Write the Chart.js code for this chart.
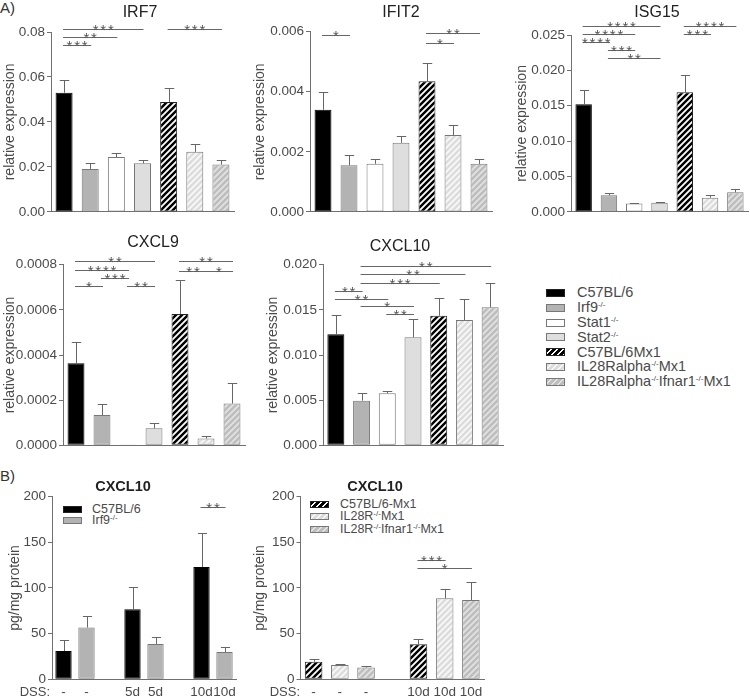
<!DOCTYPE html>
<html>
<head>
<meta charset="utf-8">
<script src="https://cdn.jsdelivr.net/npm/chart.js@4.4.1/dist/chart.umd.min.js"></script>
<style>
  body { margin: 0; background: #fff; width: 750px; height: 700px; position: relative; overflow: hidden;
         font-family: "Liberation Sans", Arial, Helvetica, sans-serif; color: #444; }
  canvas { position: absolute; }
  .tag { position: absolute; font-size: 15px; color: #333; line-height: 16px; }
  .leg { position: absolute; white-space: nowrap; }
  .sw { position: absolute; box-sizing: border-box; border: 1px solid #777; }
  .lt { position: absolute; color: #4a4a4a; }
  sup { font-size: 8px; vertical-align: top; position: relative; top: -3px; }
</style>
</head>
<body>
<div class="tag" style="left:0px;top:0px">A)</div>
<div class="tag" style="left:0px;top:468px">B)</div>
<div id="legends"></div>
<script>
const FONT = '"Liberation Sans", Arial, Helvetica, sans-serif';
const AXIS = '#707070';
const TXT = '#4a4a4a';

// ---- panel A: groups ----
const groupsA = ['C57BL/6', 'Irf9-/-', 'Stat1-/-', 'Stat2-/-', 'C57BL/6Mx1', 'IL28Ralpha-/-Mx1', 'IL28Ralpha-/-Ifnar1-/-Mx1'];
const groupsAHtml = ['C57BL/6', 'Irf9<sup>-/-</sup>', 'Stat1<sup>-/-</sup>', 'Stat2<sup>-/-</sup>', 'C57BL/6Mx1',
                     'IL28Ralpha<sup>-/-</sup>Mx1', 'IL28Ralpha<sup>-/-</sup>Ifnar1<sup>-/-</sup>Mx1'];
const fillA = ['black', 'gray', 'white', 'light', 'hatchBlack', 'hatchLight', 'hatchGray'];

// IRF7
const irf7Ticks = [0, 0.02, 0.04, 0.06, 0.08];
const irf7Mean = [0.0530, 0.0191, 0.0244, 0.0216, 0.0489, 0.0267, 0.0211];
const irf7Err  = [0.0057, 0.0025, 0.0016, 0.0013, 0.0060, 0.0033, 0.0022];
const irf7Sig  = [[0, 3, 0.0813, '***'], [0, 2, 0.0776, '**'], [0, 1, 0.0740, '***'], [4, 6, 0.0813, '***']];

// IFIT2
const ifit2Ticks = [0, 0.002, 0.004, 0.006];
const ifit2Mean = [0.00340, 0.00155, 0.00160, 0.00230, 0.00435, 0.00256, 0.00160];
const ifit2Err  = [0.00060, 0.00033, 0.00017, 0.00022, 0.00060, 0.00035, 0.00015];
const ifit2Sig  = [[0, 1, 0.00590, '*'], [4, 6, 0.00596, '**'], [4, 5, 0.00564, '*']];

// ISG15
const isg15Ticks = [0, 0.005, 0.010, 0.015, 0.020, 0.025];
const isg15Mean = [0.01523, 0.00234, 0.00117, 0.00130, 0.01690, 0.00200, 0.00276];
const isg15Err  = [0.00200, 0.00032, 0.00005, 0.00005, 0.00240, 0.00040, 0.00044];
const isg15Sig  = [[0, 3, 0.0263, '****'], [0, 2, 0.0251, '****'], [0, 1, 0.0240, '****'], [1, 2, 0.02285, '***'],
                   [1, 3, 0.0218, '**'], [4, 6, 0.0263, '****'], [4, 5, 0.0251, '***']];

// CXCL9
const cxcl9Ticks = [0, 0.0002, 0.0004, 0.0006, 0.0008];
const cxcl9Mean = [0.000363, 0.000134, 0.000004, 0.000075, 0.000582, 0.000030, 0.000185];
const cxcl9Err  = [0.000093, 0.000048, 0, 0.000025, 0.000149, 0.000013, 0.000092];
const cxcl9Sig  = [[0, 3, 0.000815, '**'], [0, 2, 0.000776, '****'], [1, 2, 0.000740, '***'], [0, 1, 0.000707, '*'],
                   [2, 3, 0.000707, '**'], [4, 6, 0.000815, '**'], [4, 5, 0.000772, '**'], [5, 6, 0.000772, '*']];

// CXCL10 (mRNA)
const cxcl10Ticks = [0, 0.005, 0.010, 0.015, 0.020];
const cxcl10Mean = [0.01229, 0.00494, 0.00576, 0.01196, 0.01435, 0.01387, 0.01528];
const cxcl10Err  = [0.00217, 0.00089, 0.00029, 0.00206, 0.00192, 0.00229, 0.00272];
const cxcl10Sig  = [[1, 6, 0.01985, '**'], [1, 5, 0.01897, '**'], [1, 4, 0.01800, '***'], [0, 1, 0.01712, '**'],
                    [0, 2, 0.01624, '**'], [1, 3, 0.01539, '*'], [2, 3, 0.01454, '**']];

// ---- panel B: CXCL10 protein ----
const bTicks = [0, 50, 100, 150, 200];
const bLeftLabels = ['-', '-', '', '5d', '5d', '', '10d', '10d'];
const bLeftFill = ['black', 'gray', null, 'black', 'gray', null, 'black', 'gray'];
const bLeftMean = [31, 56.6, null, 76.6, 38.7, null, 123, 29.9];
const bLeftErr  = [11.7, 12.4, null, 24.1, 8.0, null, 36.9, 5.9];
const bLeftSig  = [[6, 7, 189, '**']];
const bLeftLegend = ['C57BL/6', 'Irf9<sup>-/-</sup>'];
const bLeftLegendFill = ['black', 'gray'];

const bRightLabels = ['-', '-', '-', '', '10d', '10d', '10d'];
const bRightFill = ['hatchBlack', 'hatchLight', 'hatchGray', null, 'hatchBlack', 'hatchLight', 'hatchGray'];
const bRightMean = [19.3, 15.7, 12.8, null, 38.3, 88.7, 86.9];
const bRightErr  = [3.0, 1.5, 1.8, null, 5.5, 9.8, 19.3];
const bRightSig  = [[4, 5, 130.7, '***'], [4, 6, 121.5, '*']];
const bRightLegend = ['C57BL/6-Mx1', 'IL28R<sup>-/-</sup>Mx1', 'IL28R<sup>-/-</sup>Ifnar1<sup>-/-</sup>Mx1'];
const bRightLegendFill = ['hatchBlack', 'hatchLight', 'hatchGray'];

// ---- fills ----
function hatch(bg, fg, lw) {
  const s = 6, c = document.createElement('canvas');
  c.width = s; c.height = s;
  const g = c.getContext('2d');
  g.fillStyle = bg; g.fillRect(0, 0, s, s);
  g.strokeStyle = fg; g.lineWidth = lw;
  g.beginPath();
  g.moveTo(0, s); g.lineTo(s, 0);
  g.moveTo(-2, 2); g.lineTo(2, -2);
  g.moveTo(s - 2, s + 2); g.lineTo(s + 2, s - 2);
  g.stroke();
  return g.createPattern(c, 'repeat');
}
const FILL = {
  black: '#000000', gray: '#b3b3b3', white: '#ffffff', light: '#dedede',
  hatchBlack: hatch('#000000', '#ffffff', 1.8),
  hatchLight: hatch('#dcdcdc', '#f8f8f8', 1.8),
  hatchGray: hatch('#bdbdbd', '#e2e2e2', 1.8)
};
const CSSFILL = {
  black: '#000', gray: '#b3b3b3', white: '#fff', light: '#dedede',
  hatchBlack: 'repeating-linear-gradient(135deg,#000 0 2.6px,#fff 2.6px 4.2px)',
  hatchLight: 'repeating-linear-gradient(135deg,#dcdcdc 0 2.6px,#f8f8f8 2.6px 4.2px)',
  hatchGray: 'repeating-linear-gradient(135deg,#bdbdbd 0 2.6px,#e2e2e2 2.6px 4.2px)'
};
const EDGE = { black: '#000', hatchBlack: '#222' };

// titles, error bars, significance brackets, DSS label
function decor(box, cfg) {
  return {
    id: 'decor',
    afterDatasetsDraw(chart) {
      const ctx = chart.ctx, y = chart.scales.y, meta = chart.getDatasetMeta(0);
      ctx.save();
      ctx.strokeStyle = '#666';
      ctx.lineWidth = 1;
      meta.data.forEach((bar, i) => {
        const m = cfg.mean[i], e = cfg.err[i];
        if (m == null || !e) return;
        const yt = Math.round(y.getPixelForValue(m + e)) + 0.5;
        const x = Math.round(bar.x) + 0.5, hw = bar.width * 0.28;
        ctx.beginPath();
        ctx.moveTo(x, bar.y); ctx.lineTo(x, yt);
        ctx.moveTo(x - hw, yt); ctx.lineTo(x + hw, yt);
        ctx.stroke();
      });
      ctx.fillStyle = '#555';
      ctx.font = '15px ' + FONT;
      ctx.textAlign = 'center';
      ctx.textBaseline = 'alphabetic';
      if ('letterSpacing' in ctx) ctx.letterSpacing = '1.8px';
      cfg.sig.forEach(([a, b, v, t]) => {
        const x0 = meta.data[a].x - 1, x1 = meta.data[b].x + 1;
        const yy = Math.round(y.getPixelForValue(v)) + 0.5;
        ctx.beginPath(); ctx.moveTo(x0, yy); ctx.lineTo(x1, yy); ctx.stroke();
        ctx.fillText(t, (x0 + x1) / 2 + 0.9, yy + 5);
      });
      if ('letterSpacing' in ctx) ctx.letterSpacing = '0px';
      ctx.fillStyle = '#222';
      ctx.font = (cfg.bold ? 'bold 14.5px ' : '16px ') + FONT;
      ctx.textBaseline = 'middle';
      ctx.fillText(cfg.title, box.tx - box.cl, box.ty - box.ct);
      if (box.dss) {
        ctx.fillStyle = TXT;
        ctx.font = '13px ' + FONT;
        ctx.textAlign = 'right';
        ctx.fillText('DSS:', box.dss - box.cl, 692 - box.ct);
      }
      ctx.restore();
    }
  };
}

function panel(box, cfg) {
  const cv = document.createElement('canvas');
  const w = box.cr - box.cl, h = box.cb - box.ct;
  cv.width = w; cv.height = h;
  cv.style.left = box.cl + 'px'; cv.style.top = box.ct + 'px';
  cv.style.width = w + 'px'; cv.style.height = h + 'px';
  document.body.appendChild(cv);
  new Chart(cv, {
    type: 'bar',
    data: {
      labels: cfg.labels,
      datasets: [{
        data: cfg.mean,
        backgroundColor: cfg.fill.map(f => f ? FILL[f] : '#fff'),
        borderColor: cfg.fill.map(f => EDGE[f] || '#777'),
        borderWidth: 1,
        borderSkipped: false,
        barPercentage: cfg.barPct,
        categoryPercentage: 1
      }]
    },
    options: {
      responsive: false,
      animation: false,
      events: [],
      layout: { padding: { left: 0, top: box.at - box.ct, right: box.cr - box.ar, bottom: 0 } },
      plugins: { legend: { display: false }, tooltip: { enabled: false } },
      scales: {
        x: {
          offset: true,
          grid: { display: false, drawTicks: false },
          border: { display: true, color: AXIS, width: 1 },
          ticks: { display: !!cfg.showX, color: TXT, font: { size: 13.5, family: FONT }, padding: 5,
                   maxRotation: 0, autoSkip: false },
          afterFit: s => { s.height = box.cb - box.ab; }
        },
        y: {
          min: 0,
          max: cfg.ticks[cfg.ticks.length - 1],
          afterBuildTicks: s => { s.ticks = cfg.ticks.map(v => ({ value: v })); },
          grid: { drawOnChartArea: false, drawTicks: true, tickLength: 4, color: AXIS },
          border: { display: true, color: AXIS, width: 1 },
          ticks: { color: TXT, font: { size: 13.5, family: FONT }, padding: 2,
                   callback: v => Number(v).toFixed(cfg.dec) },
          title: { display: true, text: cfg.yTitle, color: TXT, font: { size: 14, family: FONT }, padding: 0 },
          afterFit: s => { s.width = box.al - box.cl; }
        }
      }
    },
    plugins: [decor(box, cfg)]
  });
}

const relExp = 'relative expression';
panel({ cl: 2, ct: 0, cr: 240, cb: 222, al: 51, at: 32, ar: 234, ab: 213, tx: 140, ty: 13 },
  { title: 'IRF7', labels: groupsA, fill: fillA, mean: irf7Mean, err: irf7Err, sig: irf7Sig,
    ticks: irf7Ticks, dec: 2, yTitle: relExp, barPct: 0.65 });
panel({ cl: 252, ct: 0, cr: 500, cb: 222, al: 310, at: 31.7, ar: 492, ab: 212.7, tx: 401, ty: 13 },
  { title: 'IFIT2', labels: groupsA, fill: fillA, mean: ifit2Mean, err: ifit2Err, sig: ifit2Sig,
    ticks: ifit2Ticks, dec: 3, yTitle: relExp, barPct: 0.65 });
panel({ cl: 514, ct: 0, cr: 750, cb: 222, al: 571, at: 35, ar: 748, ab: 213.3, tx: 657, ty: 12.7 },
  { title: 'ISG15', labels: groupsA, fill: fillA, mean: isg15Mean, err: isg15Err, sig: isg15Sig,
    ticks: isg15Ticks, dec: 3, yTitle: relExp, barPct: 0.65 });
panel({ cl: 2, ct: 228, cr: 252, cb: 456, al: 63, at: 264.7, ar: 245, ab: 445.3, tx: 153, ty: 243 },
  { title: 'CXCL9', labels: groupsA, fill: fillA, mean: cxcl9Mean, err: cxcl9Err, sig: cxcl9Sig,
    ticks: cxcl9Ticks, dec: 4, yTitle: relExp, barPct: 0.65 });
panel({ cl: 265, ct: 228, cr: 510, cb: 456, al: 323, at: 264.7, ar: 503, ab: 445.3, tx: 400, ty: 247 },
  { title: 'CXCL10', labels: groupsA, fill: fillA, mean: cxcl10Mean, err: cxcl10Err, sig: cxcl10Sig,
    ticks: cxcl10Ticks, dec: 3, yTitle: relExp, barPct: 0.66 });
panel({ cl: 7, ct: 478, cr: 242, cb: 700, al: 52, at: 496.7, ar: 236, ab: 679.3, tx: 123, ty: 487, dss: 50 },
  { title: 'CXCL10', bold: true, labels: bLeftLabels, fill: bLeftFill, mean: bLeftMean, err: bLeftErr,
    sig: bLeftSig, ticks: bTicks, dec: 0, yTitle: 'pg/mg protein', barPct: 0.71, showX: true });
panel({ cl: 252, ct: 478, cr: 492, cb: 700, al: 300.5, at: 496.7, ar: 484, ab: 679.3, tx: 375, ty: 487, dss: 300 },
  { title: 'CXCL10', bold: true, labels: bRightLabels, fill: bRightFill, mean: bRightMean, err: bRightErr,
    sig: bRightSig, ticks: bTicks, dec: 0, yTitle: 'pg/mg protein', barPct: 0.67, showX: true });

// ---- legends (HTML) ----
function legend(names, fills, o) {
  const host = document.getElementById('legends');
  names.forEach((n, i) => {
    const cy = o.y + i * o.step;
    const sw = document.createElement('div');
    sw.className = 'sw';
    sw.style.cssText = `left:${o.x}px;top:${cy - o.sh / 2}px;width:19px;height:${o.sh}px;background:${CSSFILL[fills[i]]};` +
      (fills[i] === 'black' || fills[i] === 'hatchBlack' ? 'border-color:#222;' : '');
    host.appendChild(sw);
    const t = document.createElement('div');
    t.className = 'lt';
    t.style.cssText = `left:${o.tx}px;top:${cy - o.fs * 0.6}px;font-size:${o.fs}px;line-height:${o.fs * 1.2}px;white-space:nowrap`;
    t.innerHTML = n;
    host.appendChild(t);
  });
}
legend(groupsAHtml, fillA, { x: 546, tx: 577, y: 293, step: 14.8, sh: 8, fs: 14.5 });
legend(bLeftLegend, bLeftLegendFill, { x: 63, tx: 92, y: 509, step: 11.8, sh: 7, fs: 12.5 });
legend(bRightLegend, bRightLegendFill, { x: 310, tx: 340, y: 504.5, step: 12.3, sh: 7, fs: 12.5 });
</script>
</body>
</html>
